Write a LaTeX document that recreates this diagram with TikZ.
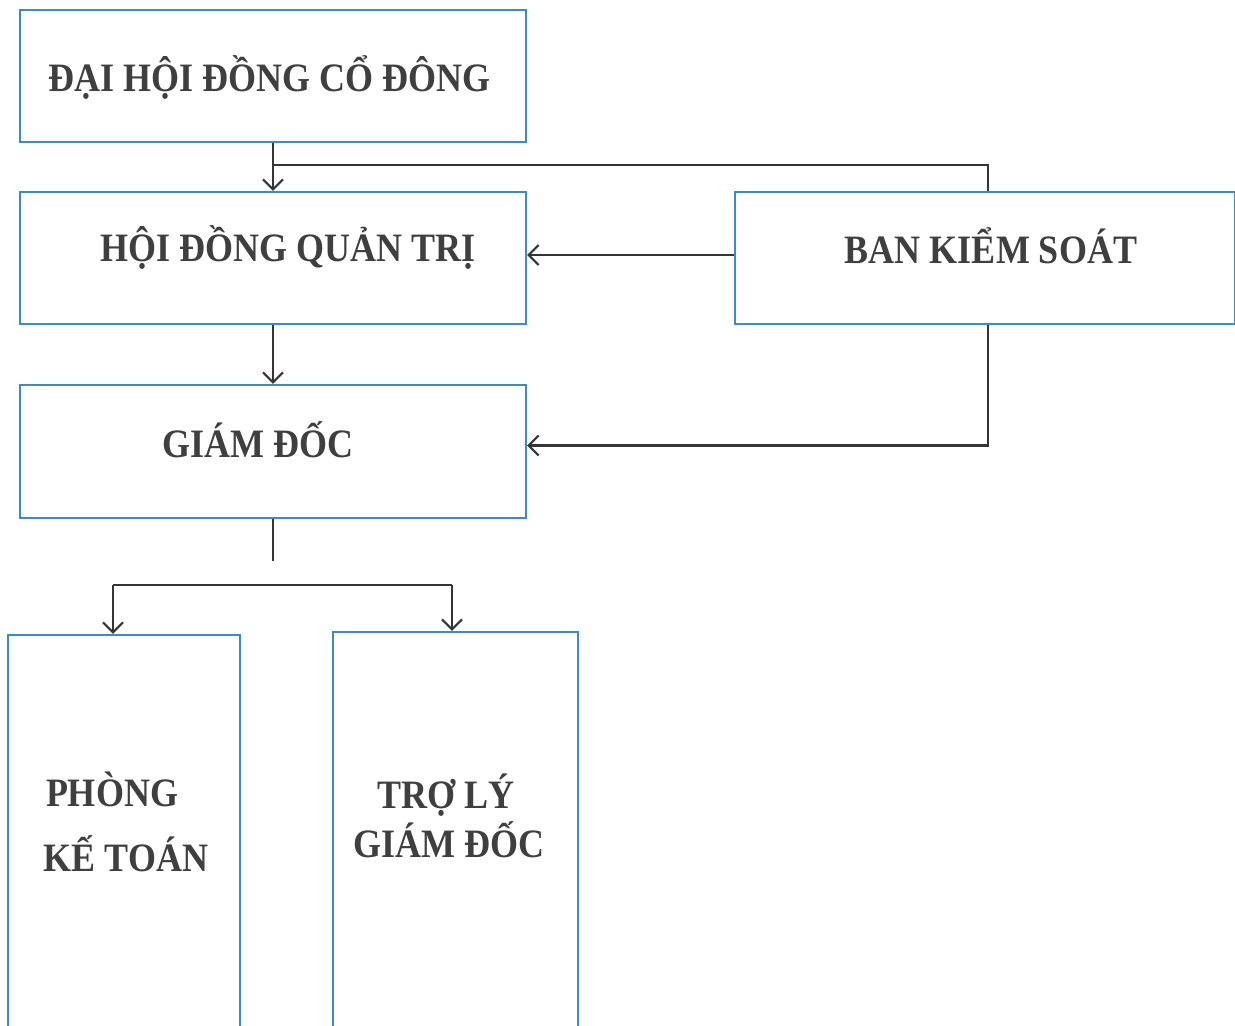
\documentclass[tikz,border=0pt]{standalone}
\usepackage{fontspec}
\setmainfont{Liberation Serif}
\usetikzlibrary{arrows.meta,calc}
\definecolor{boxblue}{HTML}{3C8DBE}
\definecolor{linegray}{HTML}{353535}
\definecolor{txtgray}{HTML}{3F3F3F}
\tikzset{
  orgbox/.style={draw=boxblue, line width=2.2pt, fill=white, inner sep=0pt},
  lbl/.style={text=txtgray, font=\fontsize{36}{40}\selectfont\bfseries, inner sep=0pt, yscale=1.12},
  conn/.style={draw=linegray, line width=2.8pt},
  arr/.style={conn, -{Straight Barb[length=10pt, width=20pt, line width=2.2pt]}}
}
\begin{document}
\begin{tikzpicture}[x=1pt,y=-1pt]
\useasboundingbox (0,0) rectangle (1235,1026);
\fill[white] (0,0) rectangle (1235,1026);
% boxes
\node[orgbox, minimum width=506, minimum height=132] (dh) at (273,76) {};
\node[orgbox, minimum width=506, minimum height=132] (hd) at (273,258) {};
\node[orgbox, minimum width=500, minimum height=132] (bk) at (985,258) {};
\node[orgbox, minimum width=506, minimum height=133] (gd) at (273,451.5) {};
\node[orgbox, minimum width=232, minimum height=420] (pk) at (124,845) {};
\node[orgbox, minimum width=245, minimum height=420] (tl) at (455.5,842) {};
% labels
\node[lbl] (tdh) at (270,77) {ĐẠI HỘI ĐỒNG CỔ ĐÔNG};
\node[lbl] (thd) at (288,247) {HỘI ĐỒNG QUẢN TRỊ};
\node[lbl] (tbk) at (991,246) {BAN KIỂM SOÁT};
\node[lbl] (tgd) at (258,440) {GIÁM ĐỐC};
\node[lbl] (tpk1) at (112,789) {PHÒNG};
\node[lbl] (tpk2) at (126,854) {KẾ TOÁN};
\node[lbl] (ttl1) at (446,795) {TRỢ LÝ};
\node[lbl] (ttl2) at (449,840) {GIÁM ĐỐC};
% connectors
\coordinate (j1) at (273,165);
\draw[arr] (dh.south) -- (hd.north);
\draw[conn] (j1) -| ($(bk.north)+(3,0)$);
\draw[arr] ($(bk.west)+(0,-3)$) -- ($(hd.east)+(0,-3)$);
\draw[arr] (hd.south) -- (gd.north);
\draw[arr] ($(bk.south)+(3,0)$) |- ($(gd.east)+(0,-6)$);
\coordinate (g1) at (273,561);
\draw[conn] (gd.south) -- (g1);
\coordinate (h1) at (113,585);
\coordinate (h2) at (452,585);
\draw[conn] (h1) -- (h2);
\draw[arr] (h1) -- (h1 |- pk.north);
\draw[arr] (h2) -- (h2 |- tl.north);
\end{tikzpicture}
\end{document}
